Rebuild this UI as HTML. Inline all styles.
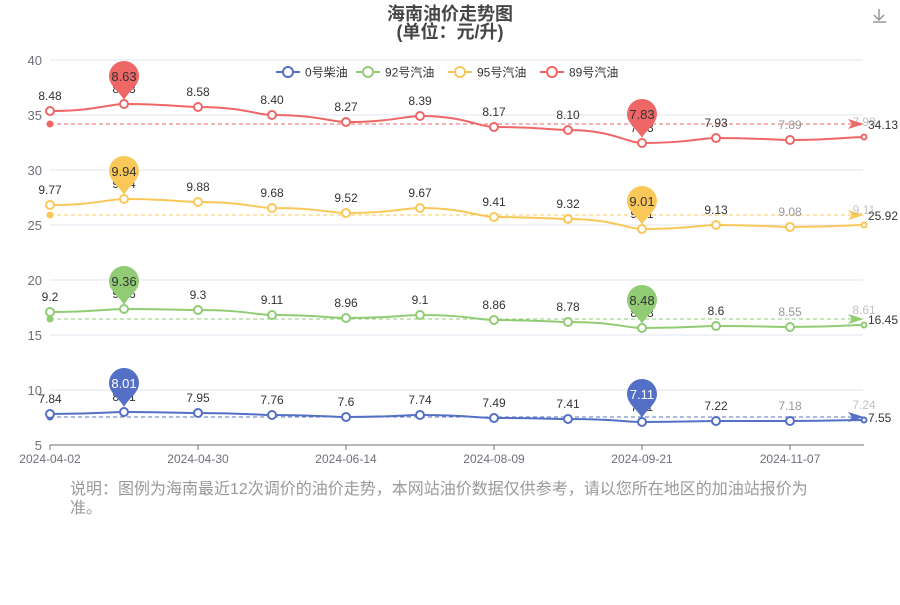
<!DOCTYPE html><html><head><meta charset="utf-8"><style>
body{margin:0;background:#fff;width:900px;height:600px;overflow:hidden;font-family:"Liberation Sans","Noto Sans CJK SC",sans-serif}
</style></head><body>
<svg id="s" width="900" height="600" xmlns="http://www.w3.org/2000/svg" font-family="Liberation Sans, Noto Sans CJK SC, sans-serif"></svg>
<script>
var s=document.getElementById('s'),h='';
h+='<text x="450" y="20" text-anchor="middle" font-size="18" font-weight="bold" fill="#464646">海南油价走势图</text>';
h+='<text x="450" y="38" text-anchor="middle" font-size="18" font-weight="bold" fill="#464646">(单位：元/升)</text>';
h+='<g stroke="#999" stroke-width="1.5" fill="none"><path d="M879 9v11M874 15l5 5 5-5M878 22v0M873 22h13"/></g>';
for(var i=0;i<8;i++){var y=60+i*55;if(i<7)h+='<line x1="50" x2="863" y1="'+y+'" y2="'+y+'" stroke="#e0e6f1"/>';h+='<text x="42" y="'+(y+5)+'" text-anchor="end" font-size="13" fill="#6e7079">'+(40-i*5)+'</text>';}
h+='<line x1="50" x2="864" y1="445" y2="445" stroke="#6e7079"/>';
var xl=['2024-04-02','2024-04-30','2024-06-14','2024-08-09','2024-09-21','2024-11-07'];
for(i=0;i<6;i++){var x=50+i*148;h+='<line x1="'+x+'" x2="'+x+'" y1="445" y2="450" stroke="#6e7079"/><text x="'+x+'" y="463" text-anchor="middle" font-size="12" fill="#6e7079">'+xl[i]+'</text>';}
var S=[
{c:'#5470c6',y:[414,412,413,415,417,415,418,419,422,421,421,420],l:['7.84','8.01','7.95','7.76','7.6','7.74','7.49','7.41','7.11','7.22','7.18','7.24'],a:417,av:'7.55',p:[383,394],pt:'#fff'},
{c:'#91cc75',y:[312,309,310,315,318,315,320,322,328,326,327,325],l:['9.2','9.36','9.3','9.11','8.96','9.1','8.86','8.78','8.48','8.6','8.55','8.61'],a:319,av:'16.45',p:[281,300],pt:'#333'},
{c:'#fac858',y:[205,199,202,208,213,208,217,219,229,225,227,225],l:['9.77','9.94','9.88','9.68','9.52','9.67','9.41','9.32','9.01','9.13','9.08','9.11'],a:215,av:'25.92',p:[171,201],pt:'#333'},
{c:'#ee6666',y:[111,104,107,115,122,116,127,130,143,138,140,137],l:['8.48','8.63','8.58','8.40','8.27','8.39','8.17','8.10','7.83','7.93','7.89','7.93'],a:124,av:'34.13',p:[76,114],pt:'#333'}];
S.forEach(function(o){
 var d='M50 '+o.y[0];
 for(var i=1;i<12;i++){var x0=50+(i-1)*74,x1=x0+74;d+=' C'+(x0+45)+' '+o.y[i-1]+' '+(x1-15)+' '+o.y[i]+' '+x1+' '+o.y[i];}
 h+='<path d="'+d+'" fill="none" stroke="'+o.c+'" stroke-width="2"/>';
 h+='<line x1="50" x2="852" y1="'+o.a+'" y2="'+o.a+'" stroke="'+o.c+'" stroke-dasharray="4,3"/><circle cx="50" cy="'+o.a+'" r="3.5" fill="'+o.c+'"/>';
 h+='<path d="M864 '+o.a+' L848 '+(o.a-5)+' L852 '+o.a+' L848 '+(o.a+5)+'Z" fill="'+o.c+'"/>';
 h+='<text x="868" y="'+(o.a+5)+'" font-size="12" fill="#333">'+o.av+'</text>';
 for(i=0;i<12;i++){var x=50+i*74,y=o.y[i];
  h+='<circle cx="'+x+'" cy="'+y+'" r="'+(i==11?2.5:4)+'" fill="#fff" stroke="'+o.c+'" stroke-width="2"/>';
  h+='<text x="'+x+'" y="'+(y-11)+'" text-anchor="middle" font-size="12" fill="'+(i>=10?'#999':'#333')+'"'+(i==11?' opacity="0.6"':'')+'>'+o.l[i]+'</text>';}
 [[124,o.p[0],o.l[1]],[642,o.p[1],o.l[8]]].forEach(function(q){var cx=q[0],cy=q[1];
  h+='<path d="M'+cx+' '+(cy+24)+' C'+(cx-4)+' '+(cy+16)+' '+(cx-15)+' '+(cy+10)+' '+(cx-15)+' '+cy+' A15 15 0 1 1 '+(cx+15)+' '+cy+' C'+(cx+15)+' '+(cy+10)+' '+(cx+4)+' '+(cy+16)+' '+cx+' '+(cy+24)+'Z" fill="'+o.c+'"/>';
  h+='<text x="'+cx+'" y="'+(cy+5)+'" text-anchor="middle" font-size="13" fill="'+o.pt+'">'+q[2]+'</text>';});
});
var lg=[['0号柴油','#5470c6',276],['92号汽油','#91cc75',356],['95号汽油','#fac858',448],['89号汽油','#ee6666',540]];
lg.forEach(function(g){h+='<line x1="'+g[2]+'" x2="'+(g[2]+24)+'" y1="72" y2="72" stroke="'+g[1]+'" stroke-width="2"/><circle cx="'+(g[2]+12)+'" cy="72" r="5" fill="#fff" stroke="'+g[1]+'" stroke-width="2"/><text x="'+(g[2]+29)+'" y="76.5" font-size="12" fill="#333">'+g[0]+'</text>';});
h+='<text x="70" y="494" font-size="16" fill="#999">说明：图例为海南最近12次调价的油价走势，本网站油价数据仅供参考，请以您所在地区的加油站报价为</text><text x="70" y="513" font-size="16" fill="#999">准。</text>';
s.innerHTML=h;
</script></body></html>
